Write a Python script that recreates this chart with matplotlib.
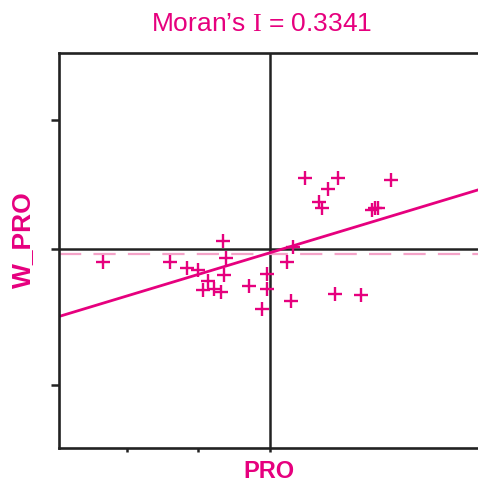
import matplotlib.pyplot as plt
import numpy as np

plt.rcParams['font.family'] = ['Liberation Sans', 'DejaVu Sans']
plt.rcParams['mathtext.fontset'] = 'custom'
plt.rcParams['mathtext.rm'] = 'Liberation Serif'

# standardised PRO (x) and its spatial lag W_PRO (y)
pro = [-2.34, -1.40, -1.16, -1.01, -0.87, -0.94, -0.78, -0.69, -0.64, -0.62,
       -0.66, -0.29, -0.04, -0.04, -0.11, 0.24, 0.29, 0.32, 0.49, 0.95,
       0.81, 0.69, 0.73, 1.43, 1.47, 1.51, 1.69, 0.91, 1.27]
w_pro = [-0.20, -0.20, -0.29, -0.33, -0.50, -0.63, -0.62, -0.66, -0.40, -0.14,
         0.12, -0.57, -0.39, -0.62, -0.93, -0.20, -0.80, 0.03, 1.10, 1.10,
         0.93, 0.73, 0.63, 0.60, 0.63, 0.63, 1.07, -0.70, -0.71]

moran_i = 0.3341
intercept = -0.06
w_mean = -0.085

pink = '#e6007e'

fig = plt.figure(figsize=(4.78, 4.87), dpi=100)
ax = fig.add_axes([59 / 478, 39 / 487, 419 / 478, 395 / 487])

ax.set_xlim(-2.95, 2.91)
ax.set_ylim(-3.08, 3.03)

ax.axhline(0, color='#222222', lw=1.8, zorder=1)
ax.axvline(0, color='#222222', lw=1.8, zorder=1)
ax.axhline(w_mean, color='#f4a3c8', lw=1.6, ls=(0, (10, 5.5)), zorder=1)

xs = np.array(ax.get_xlim())
ax.plot(xs, intercept + moran_i * xs, color=pink, lw=2.0, zorder=2)

ax.plot(pro, w_pro, '+', color=pink, ms=10, mew=1.7, zorder=3)

for side in ['top', 'left', 'bottom']:
    ax.spines[side].set_color('#222222')
    ax.spines[side].set_linewidth(1.9)
ax.spines['right'].set_visible(False)

ax.set_xticks([-2, -1, 0])
ax.set_yticks([-2.1, 0, 2])
ax.set_xticklabels([])
ax.set_yticklabels([])
ax.tick_params(axis='x', length=3, width=1.8, color='#222222')
ax.tick_params(axis='y', length=6, width=1.8, color='#222222')

fig.text(262 / 478, 1 - 24 / 487, 'Moran\u2019s $\\mathrm{I}$ = 0.3341',
         color=pink, fontsize=19, ha='center', va='center')
fig.text(269 / 478, 1 - 471 / 487, 'PRO', color=pink, fontsize=17,
         fontweight='bold', ha='center', va='center')
fig.text(23 / 478, 1 - 240 / 487, 'W_PRO', color=pink, fontsize=19,
         fontweight='bold', ha='center', va='center', rotation=90)

fig.savefig('out.png', dpi=100)
